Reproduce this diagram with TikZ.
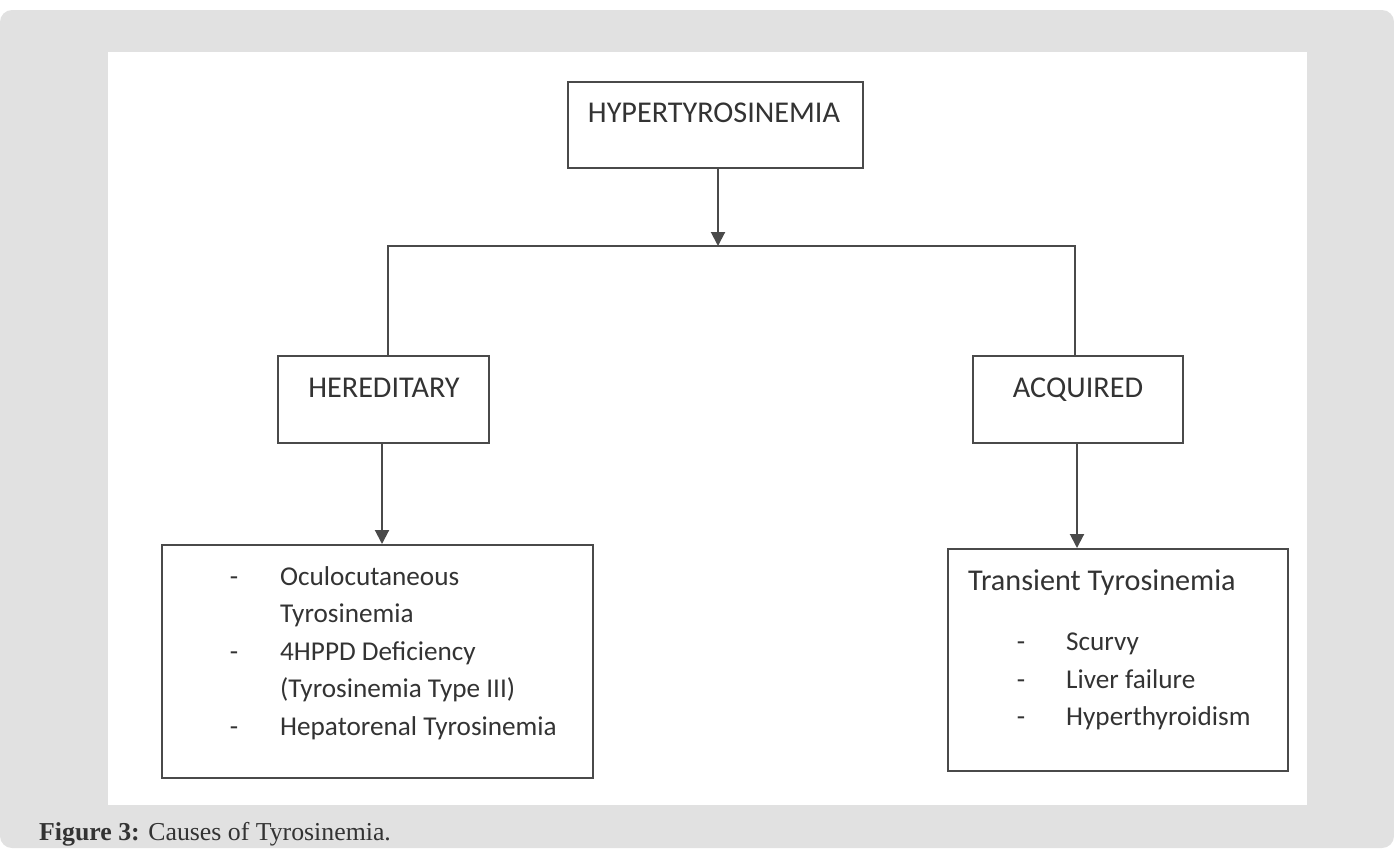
\documentclass[tikz,border=0pt]{standalone}
\usepackage{fontspec}
\setmainfont{Carlito}
\newfontfamily\capfont{Liberation Serif}
\usetikzlibrary{arrows.meta}
\definecolor{bggray}{HTML}{E1E1E1}
\definecolor{linec}{HTML}{4A4A4A}
\definecolor{textc}{HTML}{333333}
\tikzset{
  box/.style={draw=linec, line width=2pt, fill=white, inner sep=0pt},
  txt/.style={inner sep=0pt, text=textc, font=\fontsize{30.2}{35}\selectfont},
  itm/.style={inner sep=0pt, text=textc, font=\fontsize{27.2}{33}\selectfont},
  conn/.style={draw=linec, line width=2pt},
  arr/.style={conn, -{Triangle[width=14pt,length=14pt]}},
}
\begin{document}
\begin{tikzpicture}[x=1pt,y=-1pt]
\useasboundingbox (0,0) rectangle (1394,849);
\fill[bggray, rounded corners=12pt] (0,10) rectangle (1394,848);
\fill[white] (108,52) rectangle (1307,805);

% boxes
\node[box, minimum width=295pt, minimum height=86pt] (top) at (715.5,125) {};
\node[box, minimum width=211pt, minimum height=87pt] (her) at (383.5,399.5) {};
\node[box, minimum width=210pt, minimum height=87pt] (acq) at (1078,399.5) {};
\node[box, minimum width=431pt, minimum height=233pt] (ll) at (377.5,661.5) {};
\node[box, minimum width=340pt, minimum height=222pt] (lr) at (1118,660) {};

% texts
\node[txt, anchor=base] (toptxt) at (714,122) {HYPERTYROSINEMIA};
\node[txt, anchor=base] (hertxt) at (384,397) {HEREDITARY};
\node[txt, anchor=base] (acqtxt) at (1078,397) {ACQUIRED};

\node[itm, anchor=base] (d1) at (234,585) {-};
\node[itm, anchor=base west] (t1) at (280,585) {Oculocutaneous};
\node[itm, anchor=base west] (t2) at (280,622) {Tyrosinemia};
\node[itm, anchor=base] (d2) at (234,660) {-};
\node[itm, anchor=base west] (t3) at (280,660) {4HPPD Deficiency};
\node[itm, anchor=base west] (t4) at (280,697) {(Tyrosinemia Type III)};
\node[itm, anchor=base] (d3) at (234,735) {-};
\node[itm, anchor=base west] (t5) at (280,735) {Hepatorenal Tyrosinemia};

\node[txt, anchor=base west] (r0) at (968,590) {Transient Tyrosinemia};
\node[itm, anchor=base] (e1) at (1021,650) {-};
\node[itm, anchor=base west] (r1) at (1066,650) {Scurvy};
\node[itm, anchor=base] (e2) at (1021,688) {-};
\node[itm, anchor=base west] (r2) at (1066,688) {Liver failure};
\node[itm, anchor=base] (e3) at (1021,725) {-};
\node[itm, anchor=base west] (r3) at (1066,725) {Hyperthyroidism};

% connectors
\coordinate (hub) at (718,246);
\coordinate (hl) at (388,246);
\coordinate (hr) at (1075,246);
\draw[arr] (top.south -| hub) -- (hub);
\draw[conn] (hl |- her.north) -- (hl) -- (hr) -- (hr |- acq.north);
\coordinate (hx) at (382,0);
\coordinate (ax) at (1077,0);
\draw[arr] (hx |- her.south) -- (hx |- ll.north);
\draw[arr] (ax |- acq.south) -- (ax |- lr.north);

% caption
\node[anchor=base west, inner sep=0pt, text=textc, font=\capfont\fontsize{25.8}{30}\selectfont] (cap) at (39,840) {\textbf{Figure 3:} Causes of Tyrosinemia.};
\end{tikzpicture}
\end{document}
